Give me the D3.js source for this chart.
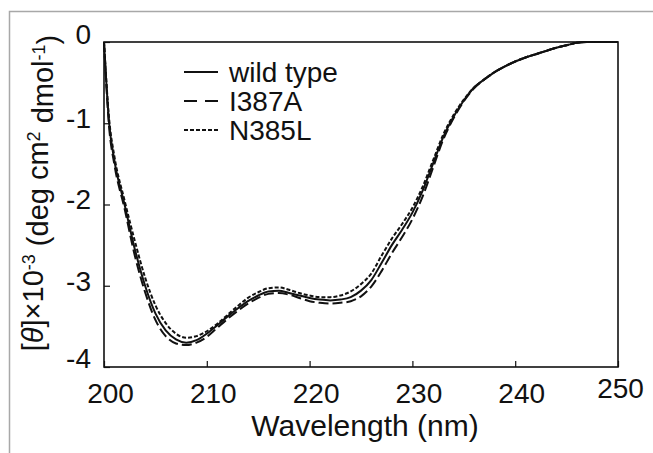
<!DOCTYPE html>
<html>
<head>
<meta charset="utf-8">
<script src="https://cdn.jsdelivr.net/npm/d3@7"></script>
<style>
  body { margin: 0; background: #fff; }
  svg text { font-family: "Liberation Sans", Arial, sans-serif; fill: #111; }
</style>
</head>
<body>
<script>
// wavelengths (nm) and mean residue ellipticity x 10^-3
var wavelength = [200, 200.5, 201, 202, 203, 204, 205, 206, 207, 208, 209, 210, 211, 212, 213, 214, 215, 216, 217, 218, 219, 220, 221, 222, 223, 224, 225, 226, 227, 228, 229, 230, 231, 232, 233, 234, 235, 236, 237, 238, 239, 240, 241, 242, 243, 244, 245, 246, 247, 248, 249, 250];

var wildType = [0, -1.0, -1.45, -2.0, -2.55, -3.0, -3.34, -3.55, -3.66, -3.70, -3.67, -3.59, -3.49, -3.38, -3.28, -3.19, -3.12, -3.07, -3.06, -3.09, -3.12, -3.15, -3.17, -3.18, -3.17, -3.14, -3.06, -2.93, -2.72, -2.50, -2.31, -2.10, -1.83, -1.50, -1.17, -0.92, -0.72, -0.56, -0.46, -0.37, -0.30, -0.24, -0.19, -0.15, -0.11, -0.07, -0.04, -0.01, 0, 0, 0, 0];

var i387a = [0, -1.05, -1.5, -2.05, -2.63, -3.08, -3.42, -3.62, -3.71, -3.73, -3.70, -3.63, -3.52, -3.41, -3.31, -3.22, -3.15, -3.10, -3.09, -3.11, -3.15, -3.19, -3.21, -3.22, -3.21, -3.19, -3.13, -3.01, -2.82, -2.60, -2.40, -2.18, -1.90, -1.55, -1.20, -0.94, -0.73, -0.57, -0.46, -0.37, -0.30, -0.24, -0.19, -0.15, -0.11, -0.07, -0.04, -0.01, 0, 0, 0, 0];

var n385l = [0, -0.95, -1.4, -1.95, -2.45, -2.9, -3.24, -3.46, -3.59, -3.64, -3.62, -3.56, -3.47, -3.36, -3.25, -3.15, -3.08, -3.03, -3.02, -3.05, -3.09, -3.12, -3.14, -3.14, -3.12, -3.07, -2.98, -2.85, -2.63, -2.42, -2.24, -2.04, -1.78, -1.46, -1.14, -0.90, -0.71, -0.56, -0.46, -0.37, -0.30, -0.24, -0.19, -0.15, -0.11, -0.07, -0.04, -0.01, 0, 0, 0, 0];

var seriesNames = ["wild type", "I387A", "N385L"];
var xTicks = [200, 210, 220, 230, 240, 250];
var yTicks = [0, -1, -2, -3, -4];

var W = 653, H = 453;
var margin = {top: 42, right: 35, bottom: 86, left: 104};
var width = W - margin.left - margin.right,
    height = H - margin.top - margin.bottom;

var svg = d3.select("body").append("svg")
    .attr("width", W)
    .attr("height", H);

// light grey frame of the original figure panel
svg.append("path")
    .attr("d", "M9.5," + H + "V11.5H" + W)
    .attr("fill", "none")
    .attr("stroke", "#a8a8a8")
    .attr("stroke-width", 1.5);

var g = svg.append("g")
    .attr("transform", "translate(" + margin.left + "," + margin.top + ")");

var x = d3.scaleLinear().domain([200, 250]).range([0, width]);
var y = d3.scaleLinear().domain([-4, 0]).range([height, 0]);

// axes with inward ticks, plain hyphen for negatives like the original
var xAxis = g.append("g")
    .attr("transform", "translate(0," + height + ")")
    .call(d3.axisBottom(x).tickValues(xTicks).tickSize(-6).tickPadding(16).tickFormat(function(d) { return String(d); }));
xAxis.selectAll("text")
    .attr("dx", function(d) { return d == 250 ? 2 : 6; })
    .attr("dy", function(d) { return d == 250 ? "0.52em" : "0.71em"; });

var yAxis = g.append("g")
    .call(d3.axisLeft(y).tickValues(yTicks).tickSize(-6).tickPadding(13).tickFormat(function(d) { return String(d); }));
yAxis.selectAll("text").attr("dy", function(d) { return d == 0 ? "0.05em" : (d == -4 ? "0em" : "0.16em"); });

g.selectAll(".domain").remove();
g.selectAll(".tick line").attr("stroke", "#111").attr("stroke-width", 1.2);
g.selectAll(".tick text")
    .style("font-size", "28px")
    .style("font-family", "'Liberation Sans', Arial, sans-serif")
    .attr("fill", "#111");

// plot box
g.append("rect")
    .attr("width", width)
    .attr("height", height)
    .attr("fill", "none")
    .attr("stroke", "#111")
    .attr("stroke-width", 1.6);

var series = [
  {name: seriesNames[0], values: wildType, dash: null},
  {name: seriesNames[1], values: i387a, dash: "10,4"},
  {name: seriesNames[2], values: n385l, dash: "4,2"}
];

var line = d3.line()
    .x(function(d) { return x(d[0]); })
    .y(function(d) { return y(d[1]); })
    .curve(d3.curveMonotoneX);

g.selectAll(".cd")
    .data(series)
  .enter().append("path")
    .attr("class", "cd")
    .attr("fill", "none")
    .attr("stroke", "#111")
    .attr("stroke-width", 2)
    .attr("stroke-dasharray", function(d) { return d.dash; })
    .attr("d", function(d) { return line(d3.zip(wavelength, d.values)); });

// legend
var legend = svg.selectAll(".legend")
    .data(series)
  .enter().append("g")
    .attr("class", "legend")
    .attr("transform", function(d, i) { return "translate(184," + (82 + i * 29) + ")"; });

legend.append("line")
    .attr("x1", 0).attr("x2", 34)
    .attr("y1", -10).attr("y2", -10)
    .attr("stroke", "#111")
    .attr("stroke-width", 2)
    .attr("stroke-dasharray", function(d, i) { return i == 1 ? "13,8" : d.dash; });

legend.append("text")
    .attr("x", 45)
    .style("font-size", "28px")
    .text(function(d) { return d.name; });

// axis titles
svg.append("text")
    .attr("x", 365)
    .attr("y", 436)
    .attr("text-anchor", "middle")
    .style("font-size", "30px")
    .text("Wavelength (nm)");

var ylab = svg.append("text")
    .attr("transform", "translate(43,193) rotate(-90)")
    .attr("text-anchor", "middle")
    .style("font-size", "29px");
ylab.append("tspan").text("[");
ylab.append("tspan").style("font-style", "italic").text("θ");
ylab.append("tspan").text("]×10");
ylab.append("tspan").attr("dy", "-0.45em").style("font-size", "18px").text("-3");
ylab.append("tspan").attr("dy", "0.45em").text(" (deg cm");
ylab.append("tspan").attr("dy", "-0.45em").style("font-size", "18px").text("2");
ylab.append("tspan").attr("dy", "0.45em").text(" dmol");
ylab.append("tspan").attr("dy", "-0.45em").style("font-size", "18px").text("-1");
ylab.append("tspan").attr("dy", "0.45em").text(")");
</script>
</body>
</html>
